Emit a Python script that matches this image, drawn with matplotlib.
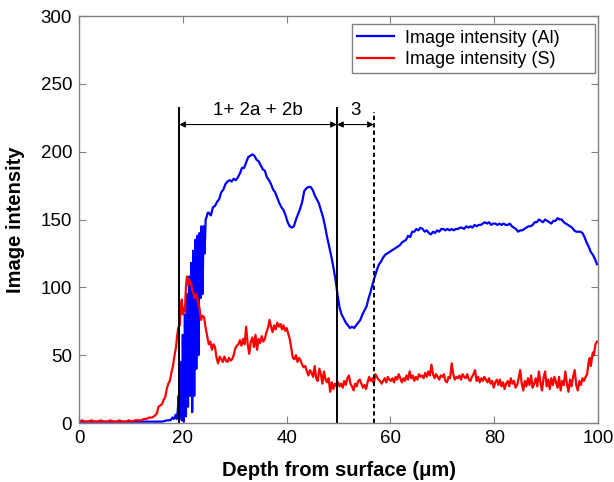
import matplotlib
matplotlib.use("Agg")
import matplotlib.pyplot as plt

plt.rcParams['font.family'] = ['Liberation Sans', 'DejaVu Sans']

# perfil de intensidade do Al (azul)
al_x = [0, 5, 10, 15, 16, 17, 17.6, 18.0, 18.3, 18.6, 18.8, 19.0, 19.2, 19.4, 19.6, 19.8, 20.0, 20.2, 20.4,
        20.6, 20.8, 21.0, 21.2, 21.4, 21.6, 21.8, 22.0, 22.2, 22.4, 22.6, 22.8, 23.0, 23.2, 23.4, 23.6, 23.8,
        24.0, 24.2, 24.4, 24.6, 24.8,
        25.0, 25.4, 25.8, 26.2, 26.6, 27.0, 27.4, 27.8, 28.2, 28.6, 29.0, 29.4, 29.8, 30.2, 30.6, 31.0, 31.4,
        31.8, 32.2, 32.6, 33.0, 33.4, 33.8, 34.2, 34.6, 35.0, 35.4, 35.8, 36.2, 36.6, 37.0, 37.4, 37.8, 38.2,
        38.6, 39.0, 39.4, 39.8, 40.2, 40.6, 41.0, 41.4, 41.8, 42.2, 42.6, 43.0, 43.4, 43.8, 44.2, 44.6, 45.0,
        45.4, 45.8, 46.2, 46.6, 47.0, 47.4, 47.8, 48.2, 48.6, 49.0, 49.4, 49.8, 50.2, 50.6, 51.0, 51.4, 51.8,
        52.2, 52.6, 53.0, 53.4, 53.8, 54.2, 54.6, 55.0, 55.4, 55.8, 56.2, 56.6, 57.0, 57.4, 57.8, 58.2, 58.6,
        59.0, 59.4, 59.8, 60.2, 60.6, 61.0, 61.4, 61.8, 62.2, 62.6, 63.0, 63.4, 63.8, 64.2, 64.6, 65.0, 65.4,
        65.8, 66.2, 66.6, 67.0, 67.4, 67.8, 68.2, 68.6, 69.0, 69.4, 69.8, 70.2, 70.6, 71.0, 71.4, 71.8, 72.2,
        72.6, 73.0, 73.4, 73.8, 74.2, 74.6, 75.0, 75.4, 75.8, 76.2, 76.6, 77.0, 77.4, 77.8, 78.2, 78.6, 79.0,
        79.4, 79.8, 80.2, 80.6, 81.0, 81.4, 81.8, 82.2, 82.6, 83.0, 83.4, 83.8, 84.2, 84.6, 85.0, 85.4, 85.8,
        86.2, 86.6, 87.0, 87.4, 87.8, 88.2, 88.6, 89.0, 89.4, 89.8, 90.2, 90.6, 91.0, 91.4, 91.8, 92.2, 92.6,
        93.0, 93.4, 93.8, 94.2, 94.6, 95.0, 95.4, 95.8, 96.2, 96.6, 97.0, 97.4, 97.8, 98.2, 98.6, 99.0, 99.4,
        99.8]
al_y = [1, 1, 1, 1, 1, 2, 2, 4, 3, 6, 3, 8, 20, 4, 45, 2, 65, 1, 80,
        5, 95, 12, 108, 20, 118, 8, 127, 20, 135, 40, 138, 50, 140, 92, 145, 95,
        145, 125, 150, 152, 155,
        155, 153, 159, 160, 163, 165, 170, 172, 176, 178, 179, 178, 180, 179, 181, 184, 188,
        188, 192, 196, 197, 198, 197, 194, 193, 190, 187, 186, 181, 179, 176, 172, 170, 166,
        162, 159, 157, 153, 148, 145, 144, 145, 150, 154, 158, 163, 171, 173, 174, 174, 172,
        168, 165, 162, 157, 152, 145, 137, 130, 123, 115, 106, 95, 85, 80, 77, 74, 72,
        70, 71, 70, 72, 74, 76, 80, 83, 86, 92, 97, 103, 108, 113, 117, 119, 122,
        124, 125, 126, 127, 128, 129, 130, 131, 133, 134, 135, 138, 137, 141, 141, 143, 142,
        144, 143, 141, 142, 140, 139, 141, 140, 142, 141, 143, 143, 142, 143, 142, 143, 142,
        143, 143, 144, 144, 143, 145, 144, 145, 144, 146, 145, 146, 146, 147, 148, 147, 148,
        146, 147, 147, 146, 147, 146, 147, 146, 146, 147, 145, 144, 143, 141, 142, 142, 143,
        144, 145, 145, 146, 148, 148, 150, 149, 148, 150, 149, 148, 147, 149, 149, 151, 150,
        150, 148, 147, 146, 145, 144, 142, 141, 141, 141, 140, 137, 133, 130, 126, 124, 121,
        117]

# perfil de intensidade do S (vermelho)
s_x = [0.0, 0.6, 1.2, 1.8, 2.4, 3.0, 3.6, 4.2, 4.8, 5.4, 6.0, 6.6, 7.2, 7.8, 8.4, 9.0, 9.6, 10.2, 10.8,
       11.4, 12.0, 12.5, 13.0, 13.5, 14.0, 14.5, 15.0, 15.3, 15.7, 16.0, 16.3, 16.6, 16.9, 17.2, 17.5,
       17.8, 18.1, 18.4, 18.7, 18.9, 19.1, 19.4, 19.6, 19.8, 20.0, 20.2, 20.4, 20.6, 20.8, 21.0, 21.2,
       21.4, 21.6, 21.8, 22.0, 22.3, 22.6, 22.9, 23.2, 23.5, 23.8, 24.1, 24.4, 24.7, 25.0, 25.3, 25.6,
       25.9, 26.2, 26.5, 26.8, 27.1, 27.4, 27.7, 28.0, 28.3, 28.6, 28.9, 29.2, 29.5, 29.8, 30.1, 30.4,
       30.7, 31.0, 31.3, 31.6, 31.9, 32.2, 32.5, 32.8, 33.1, 33.4, 33.7, 34.0, 34.3, 34.6, 34.9, 35.2,
       35.5, 35.8, 36.1, 36.4, 36.7, 37.0, 37.3, 37.6, 37.9, 38.2, 38.5, 38.8, 39.1, 39.4, 39.7, 40.0,
       40.3, 40.6, 40.9, 41.2, 41.5, 41.8, 42.1, 42.4, 42.7, 43.0, 43.3, 43.6, 43.9, 44.2, 44.5, 44.8,
       45.1, 45.4, 45.7, 46.0, 46.3, 46.6, 46.9, 47.2, 47.5, 47.8, 48.1, 48.4, 48.7, 49.0, 49.3, 49.6,
       49.9, 50.2, 50.5, 50.8, 51.1, 51.4, 51.7, 52.0, 52.3, 52.6, 52.9, 53.2, 53.5, 53.8, 54.1, 54.4,
       54.7, 55.0, 55.3, 55.6, 55.9, 56.2, 56.5, 56.8, 57.1, 57.4, 57.7, 58.0, 58.3, 58.6, 58.9, 59.2,
       59.5, 59.8, 60.1, 60.4, 60.7, 61.0, 61.3, 61.6, 61.9, 62.2, 62.5, 62.8, 63.1, 63.4, 63.7, 64.0,
       64.3, 64.6, 64.9, 65.2, 65.5, 65.8, 66.1, 66.4, 66.7, 67.0, 67.3, 67.6, 67.9, 68.2, 68.5, 68.8,
       69.1, 69.4, 69.7, 70.0, 70.3, 70.6, 70.9, 71.2, 71.5, 71.8, 72.1, 72.4, 72.7, 73.0, 73.3, 73.6,
       73.9, 74.2, 74.5, 74.8, 75.1, 75.4, 75.7, 76.0, 76.3, 76.6, 76.9, 77.2, 77.5, 77.8, 78.1, 78.4,
       78.7, 79.0, 79.3, 79.6, 79.9, 80.2, 80.5, 80.8, 81.1, 81.4, 81.7, 82.0, 82.3, 82.6, 82.9, 83.2,
       83.5, 83.8, 84.1, 84.4, 84.7, 85.0, 85.3, 85.6, 85.9, 86.2, 86.5, 86.8, 87.1, 87.4, 87.7, 88.0,
       88.3, 88.6, 88.9, 89.2, 89.5, 89.8, 90.1, 90.4, 90.7, 91.0, 91.3, 91.6, 91.9, 92.2, 92.5, 92.8,
       93.1, 93.4, 93.7, 94.0, 94.3, 94.6, 94.9, 95.2, 95.5, 95.8, 96.1, 96.4, 96.7, 97.0, 97.3, 97.6,
       97.9, 98.2, 98.4, 98.6, 98.8, 99.0, 99.2, 99.5, 99.8]
s_y = [1, 2, 1, 1, 2, 1, 1, 2, 1, 1, 2, 1, 1, 2, 1, 1, 2, 1, 2,
       2, 2, 3, 3, 4, 4, 5, 7, 12, 13, 14, 17, 19, 25, 29, 31,
       37, 42, 50, 56, 64, 70, 72, 86, 91, 80, 85, 82, 100, 108, 102, 106,
       104, 103, 98, 96, 92, 95, 90, 85, 76, 79, 78, 70, 64, 58, 60, 54,
       58, 56, 48, 44, 49, 47, 45, 49, 46, 45, 48, 46, 47, 50, 55, 57,
       58, 61, 57, 62, 58, 71, 58, 51, 60, 63, 56, 65, 54, 62, 59, 64,
       60, 62, 67, 70, 76, 71, 67, 72, 69, 74, 71, 73, 69, 72, 68, 70,
       66, 62, 55, 48, 47, 50, 45, 48, 46, 43, 41, 42, 38, 35, 39, 37,
       34, 42, 33, 31, 40, 36, 29, 38, 32, 30, 33, 23, 30, 25, 29, 27,
       30, 27, 29, 26, 31, 28, 33, 35, 29, 27, 24, 29, 27, 31, 32, 29,
       26, 28, 25, 30, 34, 31, 33, 29, 36, 34, 32, 31, 29, 31, 33, 30,
       34, 32, 31, 33, 30, 34, 32, 36, 33, 30, 33, 31, 35, 32, 38, 33,
       35, 31, 34, 32, 36, 34, 35, 33, 37, 34, 38, 35, 43, 36, 33, 36,
       34, 32, 35, 34, 36, 31, 30, 34, 33, 44, 36, 32, 34, 33, 35, 32,
       36, 34, 33, 36, 32, 31, 34, 36, 39, 31, 34, 30, 33, 31, 34, 32,
       30, 33, 29, 31, 26, 30, 32, 28, 32, 27, 30, 25, 29, 31, 27, 33,
       29, 31, 26, 28, 33, 39, 29, 24, 31, 27, 33, 28, 35, 26, 29, 33,
       27, 38, 30, 24, 33, 38, 27, 32, 25, 33, 28, 34, 30, 26, 34, 24,
       31, 28, 38, 29, 23, 32, 27, 34, 39, 28, 24, 31, 28, 33, 31, 34,
       36, 45, 48, 42, 47, 52, 50, 58, 60]

# fronteiras das zonas (um)
fronteiras = [19.3, 49.7]
fronteira_tracejada = 56.8
rotulos_zona = ["1+ 2a + 2b", "3"]

fig = plt.figure(figsize=(6.14, 4.82), dpi=100)
ax = fig.add_axes([0.1287, 0.1224, 0.8453, 0.8444])

ax.plot(al_x, al_y, color='#0000ff', lw=1.6, label='Image intensity (Al)      ')
ax.plot(s_x, s_y, color='#ff0000', lw=1.6, label='Image intensity (S)')

for xf in fronteiras:
    ax.plot([xf, xf], [0, 232], color='black', lw=1.4)
ax.plot([fronteira_tracejada, fronteira_tracejada], [0, 229], color='black', lw=1.4, linestyle=(0, (2.2, 1.6)))

# setas de dupla ponta entre as fronteiras
setas = [(fronteiras[0], fronteiras[1]), (fronteiras[1], fronteira_tracejada)]
for (x0, x1), rot in zip(setas, rotulos_zona):
    ax.annotate('', xy=(x1, 220), xytext=(x0, 220),
                arrowprops=dict(arrowstyle='<|-|>', color='black', lw=0.8,
                                mutation_scale=9, shrinkA=0, shrinkB=0))
    ax.text((x0 + x1) / 2, 224, rot, ha='center', va='bottom', fontsize=13.5)

ax.set_xlim(0, 100)
ax.set_ylim(0, 300)
ax.set_xticks([0, 20, 40, 60, 80, 100])
ax.set_yticks([0, 50, 100, 150, 200, 250, 300])
ax.tick_params(direction='in', top=True, right=True, length=5, color='#808080',
               labelsize=13.5, pad=5)
for s in ax.spines.values():
    s.set_color('#808080')
    s.set_linewidth(1.0)

ax.set_xlabel('Depth from surface (\u03bcm)', fontsize=14.5, fontweight='bold', labelpad=10)
ax.set_ylabel('Image intensity', fontsize=14.5, fontweight='bold', labelpad=11)

leg = ax.legend(loc='upper left', bbox_to_anchor=(0.526, 0.98), fontsize=13, fancybox=False,
                framealpha=1, edgecolor='#808080', handlelength=2.0, borderpad=0.3,
                labelspacing=0.25, handletextpad=0.65, borderaxespad=0)
leg.get_frame().set_linewidth(1.0)

fig.savefig('out.png', dpi=100)
